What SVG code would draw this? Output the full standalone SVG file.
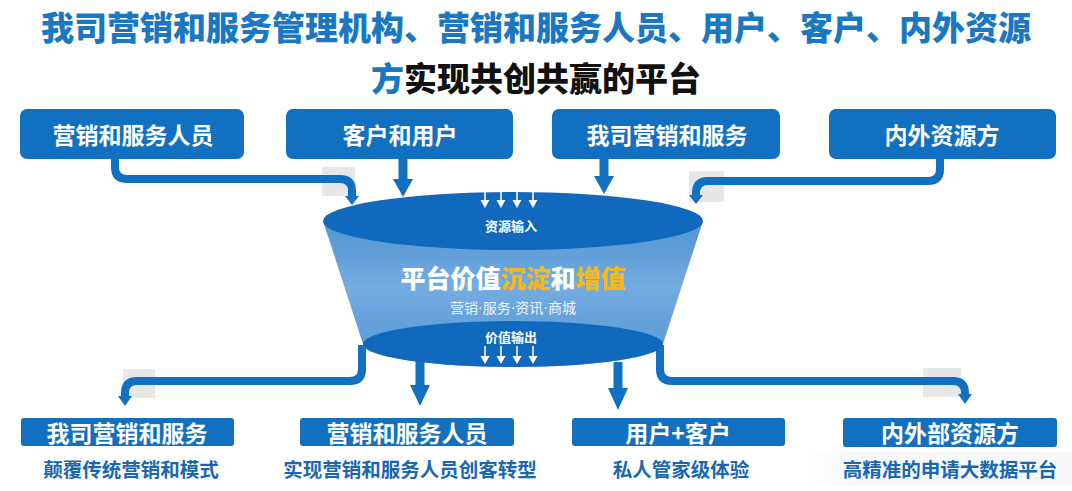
<svg xmlns="http://www.w3.org/2000/svg" width="1072" height="491" viewBox="0 0 1072 491">
<defs>
<style>
text{font-family:"Noto Sans CJK SC","Noto Sans",sans-serif;dominant-baseline:central;text-anchor:middle}
.title{font-size:33px;font-weight:900}
.box{fill:#1170c0}
.bt{fill:#fff;font-size:23px;font-weight:700}
.sub{fill:#1767b2;font-size:19.5px;font-weight:700}
.line{fill:none;stroke:#1170c0;stroke-width:8;stroke-linejoin:round}
.shaft{fill:none;stroke:#1170c0;stroke-width:9}
.head{fill:#1170c0}
.shade{fill:#e6e7e9}
.small{stroke:#fff;stroke-width:1.5;fill:none}
.smallh{fill:#fff}
.dot{font-family:"Liberation Sans",sans-serif}
</style>
<linearGradient id="body" x1="0" y1="0" x2="0" y2="1">
<stop offset="0" stop-color="#5093d2"/>
<stop offset="0.45" stop-color="#74ace0"/>
<stop offset="1" stop-color="#5296d4"/>
</linearGradient>
<linearGradient id="fade" x1="0" y1="0" x2="1" y2="0">
<stop offset="0" stop-color="#f7f8fa" stop-opacity="0"/>
<stop offset="0.2" stop-color="#f7f8fa" stop-opacity="1"/>
<stop offset="1" stop-color="#f7f8fa" stop-opacity="1"/>
</linearGradient>
</defs>
<rect width="1072" height="491" fill="#fff"/>

<g id="title">
<text class="title" x="536" y="26" fill="#1a78c2">我司营销和服务管理机构、营销和服务人员、用户、客户、内外资源</text>
<text class="title" x="536" y="77"><tspan fill="#1a78c2">方</tspan><tspan fill="#111">实现共创共赢的平台</tspan></text>
</g>

<g id="connectors">
<rect class="shade" x="322" y="167" width="33" height="29"/>
<rect class="shade" x="689" y="171" width="35" height="31"/>
<rect class="shade" x="123" y="369" width="32" height="29"/>
<rect class="shade" x="923" y="368" width="38" height="29"/>
<path class="line" d="M115,159 L115,167 Q115,179 127,179 L340,179 Q352,179 352,191 L352,197"/>
<polygon class="head" points="345,196 359,196 352,205"/>
<path class="shaft" d="M403,159 L403,180"/>
<polygon class="head" points="393,179 413,179 403,197"/>
<path class="shaft" d="M604,159 L604,177"/>
<polygon class="head" points="594,176 614,176 604,194"/>
<path class="line" d="M940,159 L940,169 Q940,181 928,181 L708,181 Q696,181 696,193 L696,196"/>
<polygon class="head" points="689,195 703,195 696,204"/>
<path class="line" d="M362,345 L362,369 Q362,381 350,381 L137,381 Q125,381 125,393 L125,397"/>
<polygon class="head" points="118,396 132,396 125,406"/>
<path class="shaft" d="M420,360 L420,386"/>
<polygon class="head" points="410,385 430,385 420,406"/>
<path class="shaft" d="M618,362 L618,389"/>
<polygon class="head" points="608,388 628,388 618,410"/>
<path class="line" d="M660,345 L660,369 Q660,381 672,381 L953,381 Q965,381 965,393 L965,395"/>
<polygon class="head" points="958,394 972,394 965,404"/>
</g>

<g id="funnel">
<path d="M323,221 L363,344 A150,23 0 0 0 663,344 L703,221 Z" fill="url(#body)"/>
<ellipse cx="513" cy="344" rx="150" ry="23" fill="#1169bd"/>
<ellipse cx="513" cy="221" rx="190" ry="29" fill="#1169bd"/>
<g>
<path class="small" d="M485,190 L485,202 M501,190 L501,202 M517,190 L517,202 M533,190 L533,202"/>
<polygon class="smallh" points="480.5,200 489.5,200 485,208"/>
<polygon class="smallh" points="496.5,200 505.5,200 501,208"/>
<polygon class="smallh" points="512.5,200 521.5,200 517,208"/>
<polygon class="smallh" points="528.5,200 537.5,200 533,208"/>
</g>
<text x="511" y="225" fill="#fff" font-size="13" font-weight="700">资源输入</text>
<text x="513" y="277" font-size="25" font-weight="900"><tspan fill="#fff">平台价值</tspan><tspan fill="#f5b81c">沉淀</tspan><tspan fill="#fff">和</tspan><tspan fill="#f5b81c">增值</tspan></text>
<text x="513" y="307" fill="#eef4fb" font-size="14">营销<tspan class="dot">·</tspan>服务<tspan class="dot">·</tspan>资讯<tspan class="dot">·</tspan>商城</text>
<text x="511" y="336" fill="#fff" font-size="13" font-weight="700">价值输出</text>
<g>
<path class="small" d="M485,346 L485,358 M501,346 L501,358 M517,346 L517,358 M533,346 L533,358"/>
<polygon class="smallh" points="480.5,356 489.5,356 485,364"/>
<polygon class="smallh" points="496.5,356 505.5,356 501,364"/>
<polygon class="smallh" points="512.5,356 521.5,356 517,364"/>
<polygon class="smallh" points="528.5,356 537.5,356 533,364"/>
</g>
</g>

<g id="top1"><rect class="box" x="20" y="109" width="224" height="50" rx="7"/><text class="bt" x="133" y="134">营销和服务人员</text></g>
<g id="top2"><rect class="box" x="286" y="109" width="227" height="50" rx="7"/><text class="bt" x="400" y="134">客户和用户</text></g>
<g id="top3"><rect class="box" x="552" y="109" width="228" height="50" rx="7"/><text class="bt" x="667" y="134">我司营销和服务</text></g>
<g id="top4"><rect class="box" x="829" y="109" width="227" height="50" rx="7"/><text class="bt" x="942" y="134">内外资源方</text></g>

<g id="bot1"><rect class="box" x="21" y="418" width="213" height="28" rx="3"/><text class="bt" x="127" y="432">我司营销和服务</text><text class="sub" x="131" y="468">颠覆传统营销和模式</text></g>
<g id="bot2"><rect class="box" x="300" y="418" width="214" height="28" rx="3"/><text class="bt" x="407" y="432">营销和服务人员</text><text class="sub" x="410" y="468">实现营销和服务人员创客转型</text></g>
<g id="bot3"><rect class="box" x="572" y="418" width="213" height="28" rx="3"/><text class="bt" x="678" y="432">用户+客户</text><text class="sub" x="681" y="468">私人管家级体验</text></g>
<g id="bot4"><rect x="800" y="452" width="272" height="34" fill="url(#fade)"/><rect class="box" x="843" y="418" width="214" height="29" rx="3"/><text class="bt" x="950" y="432">内外部资源方</text><text class="sub" x="950" y="468">高精准的申请大数据平台</text></g>
</svg>
